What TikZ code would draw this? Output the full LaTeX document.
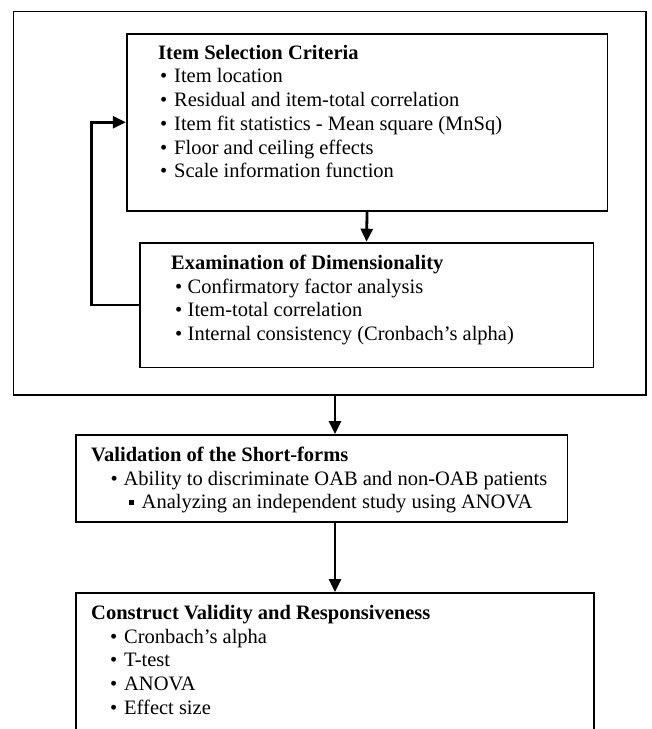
\documentclass[tikz,border=0pt]{standalone}
\usepackage{fontspec}
\setmainfont{Liberation Serif}
\usetikzlibrary{arrows.meta}
\tikzset{
  frame/.style={draw=black, line width=1.8pt, rectangle, inner sep=0pt, anchor=north west},
  ln/.style={anchor=base west, inner sep=0pt, font=\fontsize{20.5}{23.7}\selectfont},
  flow/.style={line width=2.8pt, -{Triangle[length=13pt,width=12pt]}},
}
\newcommand{\bul}[1]{\makebox[#1][l]{\textbullet}}
\newcommand{\sqb}[1]{\makebox[#1][l]{\raisebox{3.5pt}{\rule{5pt}{5pt}}}}
\begin{document}
\begin{tikzpicture}[x=1pt,y=-1pt]
\useasboundingbox (0,0) rectangle (652,729);
\clip (0,0) rectangle (652,729);
% boxes
\node[frame, minimum width=632.5pt, minimum height=383.5pt] (outer) at (12.5,10.5) {};
\node[frame, minimum width=480.7pt, minimum height=177.3pt] (b1) at (125.8,32.7) {};
\node[frame, minimum width=453.7pt, minimum height=124.8pt] (b2) at (138.8,241.7) {};
\node[frame, minimum width=491.5pt, minimum height=87pt] (b3) at (75,434) {};
\node[frame, minimum width=518pt, minimum height=180pt] (b4) at (75,592) {};
% box 1 text
\node[ln] (t1a) at (158,59.2) {\textbf{Item Selection Criteria}};
\node[ln] (t1b) at (160,82.9) {\bul{14pt}Item location};
\node[ln] (t1c) at (160,106.6) {\bul{14pt}Residual and item-total correlation};
\node[ln] (t1d) at (160,130.3) {\bul{14pt}Item fit statistics - Mean square (MnSq)};
\node[ln] (t1e) at (160,154.0) {\bul{14pt}Floor and ceiling effects};
\node[ln] (t1f) at (160,177.7) {\bul{14pt}Scale information function};
% box 2 text
\node[ln] (t2a) at (171,269.5) {\textbf{Examination of Dimensionality}};
\node[ln] (t2b) at (175,293.2) {\bul{12.5pt}Confirmatory factor analysis};
\node[ln] (t2c) at (175,316.9) {\bul{12.5pt}Item-total correlation};
\node[ln] (t2d) at (175,340.6) {\bul{12.5pt}Internal consistency (Cronbach’s alpha)};
% box 3 text
\node[ln] (t3a) at (91,461.5) {\textbf{Validation of the Short-forms}};
\node[ln] (t3b) at (110.5,485.2) {\bul{13pt}Ability to discriminate OAB and non-OAB patients};
\node[ln] (t3c) at (128.5,508.9) {\sqb{13pt}Analyzing an independent study using ANOVA};
% box 4 text
\node[ln] (t4a) at (91,619.5) {\textbf{Construct Validity and Responsiveness}};
\node[ln] (t4b) at (110,643.2) {\bul{14pt}Cronbach’s alpha};
\node[ln] (t4c) at (110,666.9) {\bul{14pt}T-test};
\node[ln] (t4d) at (110,690.6) {\bul{14pt}ANOVA};
\node[ln] (t4e) at (110,714.3) {\bul{14pt}Effect size};
% connectors
\coordinate (fb) at (91.5,0);
\coordinate (ax) at (335,0);
\draw[flow] (b1.south) -- (b2.north);
\draw[flow] (b2.west) -- (b2.west -| fb) |- (b1.west);
\draw[flow] (outer.south -| ax) -- (b3.north -| ax);
\draw[flow] (b3.south -| ax) -- (b4.north -| ax);
\end{tikzpicture}
\end{document}
